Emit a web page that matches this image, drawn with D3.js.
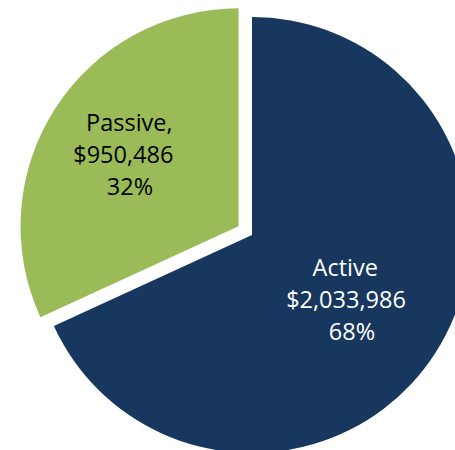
<!DOCTYPE html>
<html>
<head>
<meta charset="utf-8">
<script src="https://cdn.jsdelivr.net/npm/d3@7"></script>
<style>
  html, body { margin: 0; padding: 0; background: #fff; }
  svg { display: block; }
</style>
</head>
<body>
<svg id="chart" width="455" height="450"></svg>
<script>
// ---- data ----
const categories = ["Active", "Passive"];
const values = [2033986, 950486];
const labelLines = [
  ["Active", "$2,033,986", "68%"],
  ["Passive,", "$950,486", "32%"]
];
const colors = ["#17375E", "#9BBB59"];
const textColors = ["#ffffff", "#000000"];

// ---- layout ----
const cx = 252, cy = 235, R = 218;
const explode = [0, 16];
const labelR = [115, 135];
const lineDx = [[-3.5, -2.8, 3.2], [4.4, -1.6, 5.1]];
const baseDy = [11, 10];
const lineH = 32;

const svg = d3.select("#chart");
const data = categories.map((c, i) => ({ name: c, value: values[i], i }));

const pie = d3.pie().value(d => d.value).sort(null).startAngle(0).endAngle(2 * Math.PI);
const arcs = pie(data);
const arc = d3.arc().innerRadius(0).outerRadius(R);

const g = svg.append("g").attr("transform", `translate(${cx},${cy})`);

arcs.forEach((a, k) => {
  const mid = (a.startAngle + a.endAngle) / 2;
  const ox = Math.sin(mid) * explode[k];
  const oy = -Math.cos(mid) * explode[k];
  const sg = g.append("g").attr("transform", `translate(${ox},${oy})`);
  sg.append("path").attr("d", arc(a)).attr("fill", colors[k]);

  const lx = Math.sin(mid) * labelR[k];
  const ly = -Math.cos(mid) * labelR[k];
  const t = sg.append("text")
    .attr("font-family", "'Open Sans', 'Liberation Sans', sans-serif")
    .attr("font-size", 23.5)
    .attr("fill", textColors[k])
    .attr("text-anchor", "middle");
  const lines = labelLines[k];
  lines.forEach((ln, j) => {
    t.append("tspan")
      .attr("x", lx + lineDx[k][j])
      .attr("y", ly + baseDy[k] + (j - (lines.length - 1) / 2) * lineH)
      .text(ln);
  });
});
</script>
</body>
</html>
